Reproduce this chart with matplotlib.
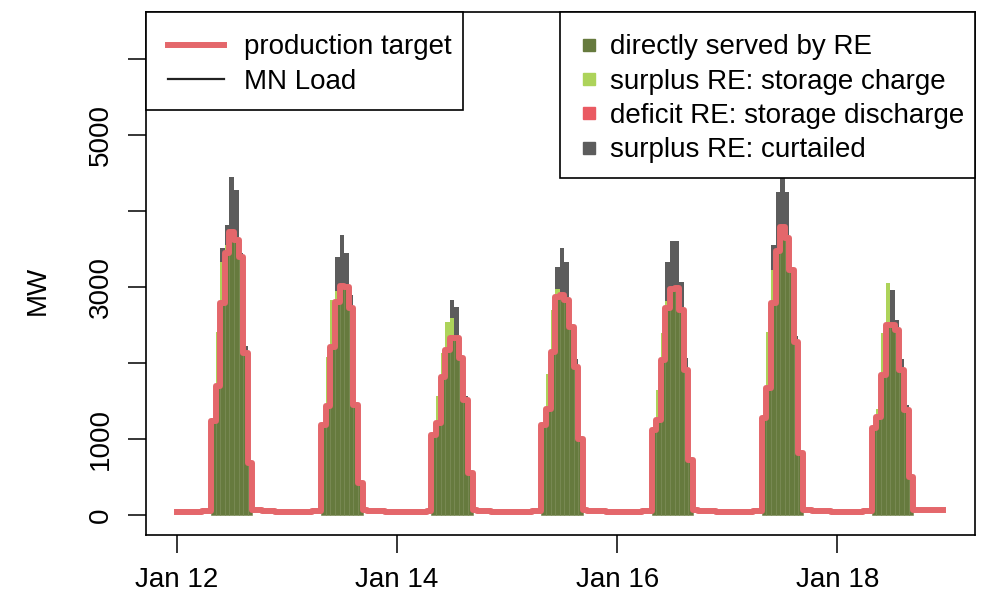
import numpy as np
import matplotlib.pyplot as plt
from matplotlib.lines import Line2D
from matplotlib.patches import Rectangle

plt.rcParams['font.family'] = ['Liberation Sans', 'DejaVu Sans']

# hourly production target (MW), one list of 24 hours per day, Jan 12 .. Jan 18
target = [
    [40, 38, 36, 35, 36, 40, 45, 50, 1230, 1700, 2790, 3450, 3720, 3620, 3400, 2130, 680, 62, 58, 52, 48, 45, 42, 40],
    [40, 38, 37, 36, 37, 40, 45, 50, 1180, 1430, 2210, 2800, 3010, 3000, 2720, 1450, 420, 60, 56, 52, 48, 45, 42, 40],
    [38, 36, 35, 35, 36, 39, 44, 48, 1050, 1210, 1820, 2170, 2330, 2330, 2060, 1510, 550, 58, 55, 50, 47, 44, 41, 39],
    [38, 36, 35, 35, 36, 40, 45, 50, 1180, 1400, 2150, 2870, 2890, 2830, 2480, 1950, 1000, 62, 57, 52, 48, 45, 42, 40],
    [40, 38, 36, 36, 37, 40, 45, 50, 1120, 1250, 2040, 2720, 2980, 2990, 2700, 1910, 720, 60, 56, 52, 48, 45, 42, 40],
    [40, 38, 37, 36, 37, 41, 46, 52, 1270, 1670, 2790, 3470, 3790, 3640, 3220, 2280, 810, 64, 60, 55, 50, 47, 45, 44],
    [44, 42, 40, 40, 41, 44, 48, 52, 1140, 1290, 1840, 2500, 2500, 2430, 1910, 1380, 500, 70, 68, 66, 64, 62, 60, 58],
]

# renewable production during the day (hours 8..16)
sun_hours = [8, 9, 10, 11, 12, 13, 14, 15, 16]
re_prod = [
    [1230, 2410, 3510, 3820, 4450, 4280, 3450, 2220, 680],
    [1180, 2080, 2830, 3400, 3680, 3450, 2900, 1450, 420],
    [1050, 1560, 2130, 2540, 2830, 2740, 2060, 1560, 550],
    [1180, 1860, 2700, 3270, 3510, 3330, 2480, 2050, 1000],
    [1120, 1650, 2400, 3330, 3600, 3600, 3070, 2060, 720],
    [1270, 2410, 3550, 4250, 4600, 4250, 3220, 2350, 810],
    [1140, 1390, 2390, 3050, 2960, 2560, 2050, 1450, 500],
]
# part of the surplus that goes into storage
charge = [
    [0, 710, 540, 100, 0, 0, 0, 0, 0],
    [0, 650, 620, 150, 0, 0, 0, 0, 0],
    [0, 350, 310, 370, 260, 0, 0, 0, 0],
    [0, 460, 550, 100, 0, 0, 0, 0, 0],
    [0, 400, 360, 100, 0, 0, 0, 0, 0],
    [0, 740, 440, 0, 0, 0, 0, 0, 0],
    [0, 100, 550, 550, 0, 0, 0, 0, 0],
]

day_ticks = [0, 2, 4, 6]
day_labels = ['Jan 12', 'Jan 14', 'Jan 16', 'Jan 18']

c_served = '#667a3e'
c_charge = '#add35a'
c_discharge = '#ea5a62'
c_curtail = '#5c5c5c'
c_target = '#e4676b'

fig = plt.figure(figsize=(9.92, 6.03), dpi=100)
ax = fig.add_axes([0.147, 0.113, 0.836, 0.867])

w = 1 / 24
for d in range(7):
    x = d + np.array(sun_hours) / 24
    tgt = np.array(target[d])[sun_hours]
    re = np.array(re_prod[d])
    ch = np.array(charge[d])
    served = np.minimum(re, tgt)
    disc = np.maximum(tgt - re, 0)
    curt = np.maximum(re - tgt, 0) - ch
    ax.bar(x, served, width=w, color=c_served, edgecolor='#76864f', linewidth=0.4, zorder=2)
    ax.bar(x, disc, width=w, bottom=served, color=c_discharge, linewidth=0, zorder=2)
    ax.bar(x, ch, width=w, bottom=served, color=c_charge, linewidth=0, zorder=2)
    ax.bar(x, curt, width=w, bottom=served + ch, color=c_curtail, linewidth=0, zorder=2)

hours = np.arange(7 * 24) / 24
ax.plot(hours, np.concatenate(target), drawstyle='steps-mid', color=c_target, lw=4.3, zorder=3)

ax.set_xlim(-0.28, 7.25)
ax.set_ylim(-263, 6620)
ax.set_xticks(day_ticks)
ax.set_xticklabels(day_labels, fontsize=20)
ax.set_yticks(range(0, 7000, 1000))
ax.set_yticklabels(['0', '1000', '', '3000', '', '5000', ''], fontsize=20, rotation=90, va='center')
ax.tick_params(length=13, width=1.1, pad=10)
for s in ax.spines.values():
    s.set_linewidth(1.2)

fig.text(0.038, 0.519, 'MW', rotation=90, fontsize=20, ha='center', va='center')

# legend boxes drawn by hand (R style: wider vertical than horizontal padding)
for x0, y0 in [(0, 0.813), (0.499, 0.683)]:
    x1 = 0.382 if x0 == 0 else 1.0
    ax.add_patch(Rectangle((x0, y0), x1 - x0, 1 - y0, transform=ax.transAxes,
                           facecolor='white', edgecolor='black', lw=1.2,
                           zorder=4, clip_on=False))

h1 = [Line2D([], [], color=c_target, lw=4.3), Line2D([], [], color='#222222', lw=1.6)]
leg1 = ax.legend(h1, ['production target', 'MN Load'], loc='upper left',
                 bbox_to_anchor=(0, 1), fontsize=20, borderaxespad=0, frameon=False,
                 handlelength=2.0, handletextpad=0.75, borderpad=0.8, labelspacing=0.3)
leg1.set_zorder(5)
ax.add_artist(leg1)

h2 = [Line2D([], [], marker='s', ls='none', color=c, ms=8.5)
      for c in [c_served, c_charge, c_discharge, c_curtail]]
leg2 = ax.legend(h2, ['directly served by RE', 'surplus RE: storage charge',
                      'deficit RE: storage discharge', 'surplus RE: curtailed'],
                 loc='upper left', bbox_to_anchor=(0.499, 1), fontsize=20,
                 borderaxespad=0, frameon=False, handlelength=0.5, handletextpad=0.5,
                 borderpad=0.8, labelspacing=0.3)
leg2.set_zorder(5)

fig.savefig('out.png', dpi=100)
